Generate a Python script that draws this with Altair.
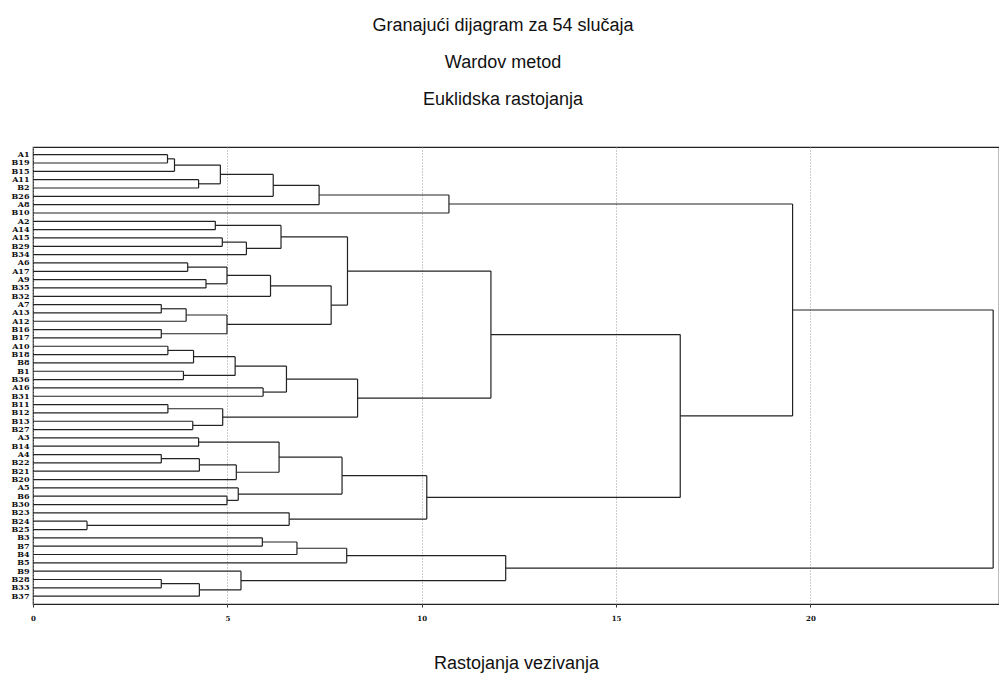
import altair as alt
import pandas as pd

# Leaf order, top to bottom
leaves = ["A1", "B19", "B15", "A11", "B2", "B26", "A8", "B10", "A2", "A14",
          "A15", "B29", "B34", "A6", "A17", "A9", "B35", "B32", "A7", "A13",
          "A12", "B16", "B17", "A10", "B18", "B8", "B1", "B36", "A16", "B31",
          "B11", "B12", "B13", "B27", "A3", "B14", "A4", "B22", "B21", "B20",
          "A5", "B6", "B30", "B23", "B24", "B25", "B3", "B7", "B4", "B5",
          "B9", "B28", "B33", "B37"]

# Merge steps: children (leaf name or "m<k>") and linkage distance
merge_left = ["A1", "m0", "A11", "m1", "m3", "m4", "m5", "A2", "A15", "m8",
              "m7", "A6", "A9", "m11", "m13", "A7", "m15", "B16", "m16", "m14",
              "m10", "A10", "m21", "B1", "m22", "A16", "m24", "B11", "B13", "m27",
              "m26", "m20", "A3", "A4", "m33", "m34", "m32", "B6", "A5", "m36",
              "B24", "B23", "m39", "m31", "m6", "B3", "m45", "m46", "B28", "m48",
              "B9", "m47", "m44"]
merge_right = ["B19", "B15", "B2", "m2", "B26", "A8", "B10", "A14", "B29", "B34",
               "m9", "A17", "B35", "m12", "B32", "A13", "A12", "B17", "m17", "m18",
               "m19", "B18", "B8", "B36", "m23", "B31", "m25", "B12", "B27", "m28",
               "m29", "m30", "B14", "B22", "B21", "B20", "m35", "B30", "m37", "m38",
               "B25", "m40", "m41", "m42", "m43", "B7", "B4", "B5", "B33", "B37",
               "m49", "m50", "m51"]
merge_height = [3.46, 3.64, 4.26, 4.82, 6.18, 7.36, 10.70, 4.69, 4.87, 5.49,
                6.38, 3.98, 4.45, 4.99, 6.11, 3.30, 3.94, 3.30, 4.99, 7.67,
                8.09, 3.47, 4.13, 3.87, 5.20, 5.92, 6.52, 3.47, 4.11, 4.88,
                8.35, 11.78, 4.26, 3.30, 4.28, 5.23, 6.33, 4.99, 5.28, 7.95,
                1.39, 6.59, 10.13, 16.65, 19.54, 5.90, 6.79, 8.07, 3.30, 4.28,
                5.35, 12.16, 24.70]

x_ticks = [0, 5, 10, 15, 20]

# Dendrogram layout (segments) built from the merge table
pos = {name: (0.0, float(i)) for i, name in enumerate(leaves)}
rows = []
for k, (l, r, h) in enumerate(zip(merge_left, merge_right, merge_height)):
    xl, yl = pos[l]
    xr, yr = pos[r]
    rows.append({"x0": xl, "x1": h, "y0": yl, "y1": yl})
    rows.append({"x0": xr, "x1": h, "y0": yr, "y1": yr})
    rows.append({"x0": h, "x1": h, "y0": yl, "y1": yr})
    pos["m%d" % k] = (h, (yl + yr) / 2.0)
seg = pd.DataFrame(rows)

label_expr = "[" + ",".join("'%s'" % s for s in leaves) + "][datum.value]"

chart = alt.Chart(seg).mark_rule(color="#222222", strokeWidth=1.2).encode(
    x=alt.X("x0:Q",
            scale=alt.Scale(domain=[0, 24.85], nice=False, zero=False),
            axis=alt.Axis(values=x_ticks, title="Rastojanja vezivanja",
                          titleFont="Liberation Sans", titleFontSize=18,
                          titleFontWeight="normal", titleColor="#111111",
                          titlePadding=33,
                          labelFont="DejaVu Serif", labelFontWeight="bold",
                          labelFontSize=7, labelColor="#111111", labelPadding=7,
                          labelFlush=False,
                          tickSize=3, tickColor="#333333", domain=False,
                          grid=True, gridColor="#9a9a9a", gridDash=[1, 2],
                          gridWidth=1)),
    x2="x1:Q",
    y=alt.Y("y0:Q",
            scale=alt.Scale(domain=[-0.92, 53.94], reverse=True, nice=False, zero=False),
            axis=alt.Axis(values=list(range(len(leaves))), labelExpr=label_expr,
                          title=None, grid=False, ticks=False, domain=False,
                          labelOverlap=False, labelFont="DejaVu Serif",
                          labelFontWeight="bold", labelFontSize=8,
                          labelColor="#111111", labelPadding=4,
                          labelBaseline="middle")),
    y2="y1:Q",
).properties(
    width=966,
    height=457,
    autosize="none",
    padding={"left": 25, "top": 139, "right": 0, "bottom": 70},
    title=alt.Title(
        text="Granajući dijagram za 54 slučaja",
        subtitle=["Wardov metod", "Euklidska rastojanja"],
        font="Liberation Sans", fontSize=18, fontWeight="normal", color="#111111",
        subtitleFont="Liberation Sans", subtitleFontSize=18, subtitleColor="#111111",
        subtitleLineHeight=37, subtitlePadding=19,
        anchor="middle", dx=-13, offset=38,
    ),
).configure_view(stroke="#222222", strokeWidth=1.2)

chart.save("out.html", embed_options={"renderer": "svg", "actions": False})
